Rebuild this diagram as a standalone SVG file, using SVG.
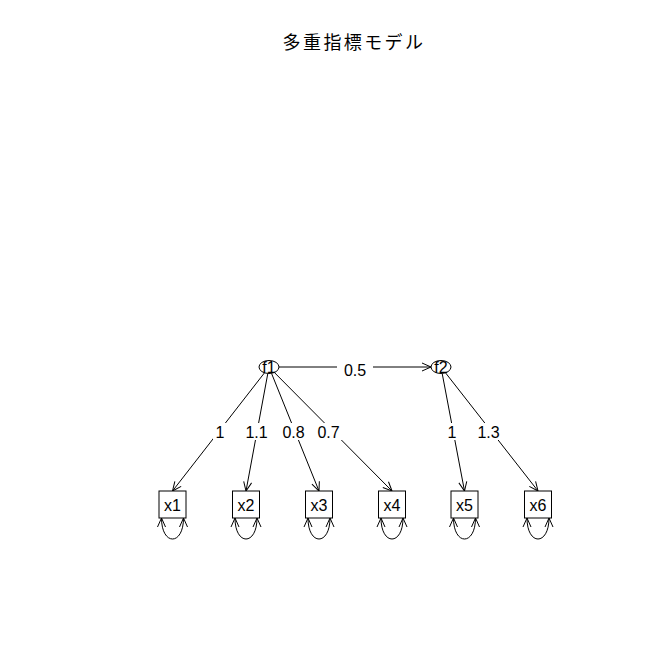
<svg xmlns="http://www.w3.org/2000/svg" width="672" height="672" viewBox="0 0 672 672">
<defs>
<marker id="arr" markerUnits="userSpaceOnUse" markerWidth="12" markerHeight="12" refX="9" refY="4" orient="auto-start-reverse" overflow="visible">
<path d="M0,0 L9,4 L0,8" fill="none" stroke="#000" stroke-width="1"/>
</marker>
</defs>
<style>
.ln{stroke:#000;stroke-width:1;fill:none}
.nd{stroke:#000;stroke-width:1;fill:#fff}
.t{font-family:"Liberation Sans","DejaVu Sans",sans-serif;font-size:16px;fill:#000;text-anchor:middle}
.lb{fill:#fff;stroke:none}
.title{font-family:"Noto Sans CJK JP","Liberation Sans",sans-serif;font-size:18px;letter-spacing:2.4px;fill:#000;text-anchor:middle}
</style>
<rect width="672" height="672" fill="#fff"/>
<text class="title" x="354" y="49">多重指標モデル</text>
<g id="connectors">
<line class="ln" x1="279" y1="367" x2="431" y2="367" marker-end="url(#arr)"/>
<line class="ln" x1="264.5" y1="372.8" x2="172.5" y2="491" marker-end="url(#arr)"/>
<line class="ln" x1="267.8" y1="373.5" x2="246" y2="491" marker-end="url(#arr)"/>
<line class="ln" x1="271.5" y1="373.3" x2="319" y2="491" marker-end="url(#arr)"/>
<line class="ln" x1="274.4" y1="372.5" x2="392" y2="491" marker-end="url(#arr)"/>
<line class="ln" x1="442.2" y1="373.5" x2="464.5" y2="491" marker-end="url(#arr)"/>
<line class="ln" x1="445.5" y1="372.8" x2="538" y2="491" marker-end="url(#arr)"/>
<path class="ln" d="M161.5,518 C161.5,546 183.5,546 183.5,518" marker-start="url(#arr)" marker-end="url(#arr)"/>
<path class="ln" d="M235,518 C235,546 257,546 257,518" marker-start="url(#arr)" marker-end="url(#arr)"/>
<path class="ln" d="M308,518 C308,546 330,546 330,518" marker-start="url(#arr)" marker-end="url(#arr)"/>
<path class="ln" d="M381,518 C381,546 403,546 403,518" marker-start="url(#arr)" marker-end="url(#arr)"/>
<path class="ln" d="M453.5,518 C453.5,546 475.5,546 475.5,518" marker-start="url(#arr)" marker-end="url(#arr)"/>
<path class="ln" d="M527,518 C527,546 549,546 549,518" marker-start="url(#arr)" marker-end="url(#arr)"/>
<rect class="lb" x="337" y="359" width="36" height="17"/>
<text class="t" x="355" y="376">0.5</text>
<rect class="lb" x="213" y="423" width="14" height="17"/>
<text class="t" x="220" y="438">1</text>
<rect class="lb" x="243" y="423" width="27" height="17"/>
<text class="t" x="256.5" y="438">1.1</text>
<rect class="lb" x="280" y="423" width="27" height="17"/>
<text class="t" x="293.5" y="438">0.8</text>
<rect class="lb" x="315" y="423" width="27" height="17"/>
<text class="t" x="328.5" y="438">0.7</text>
<rect class="lb" x="445" y="423" width="14" height="17"/>
<text class="t" x="452" y="438">1</text>
<rect class="lb" x="475" y="423" width="27" height="17"/>
<text class="t" x="488.5" y="438">1.3</text>
</g>
<g id="f1"><ellipse class="nd" cx="269" cy="367" rx="10" ry="6.5"/><text class="t" x="269" y="373">f1</text></g>
<g id="f2"><ellipse class="nd" cx="441" cy="367" rx="10" ry="6.5"/><text class="t" x="441" y="373">f2</text></g>
<g id="x1"><rect class="nd" x="159" y="491" width="27" height="27"/><text class="t" x="172.5" y="511">x1</text></g>
<g id="x2"><rect class="nd" x="232.5" y="491" width="27" height="27"/><text class="t" x="246" y="511">x2</text></g>
<g id="x3"><rect class="nd" x="305.5" y="491" width="27" height="27"/><text class="t" x="319" y="511">x3</text></g>
<g id="x4"><rect class="nd" x="378.5" y="491" width="27" height="27"/><text class="t" x="392" y="511">x4</text></g>
<g id="x5"><rect class="nd" x="451" y="491" width="27" height="27"/><text class="t" x="464.5" y="511">x5</text></g>
<g id="x6"><rect class="nd" x="524.5" y="491" width="27" height="27"/><text class="t" x="538" y="511">x6</text></g>
</svg>
